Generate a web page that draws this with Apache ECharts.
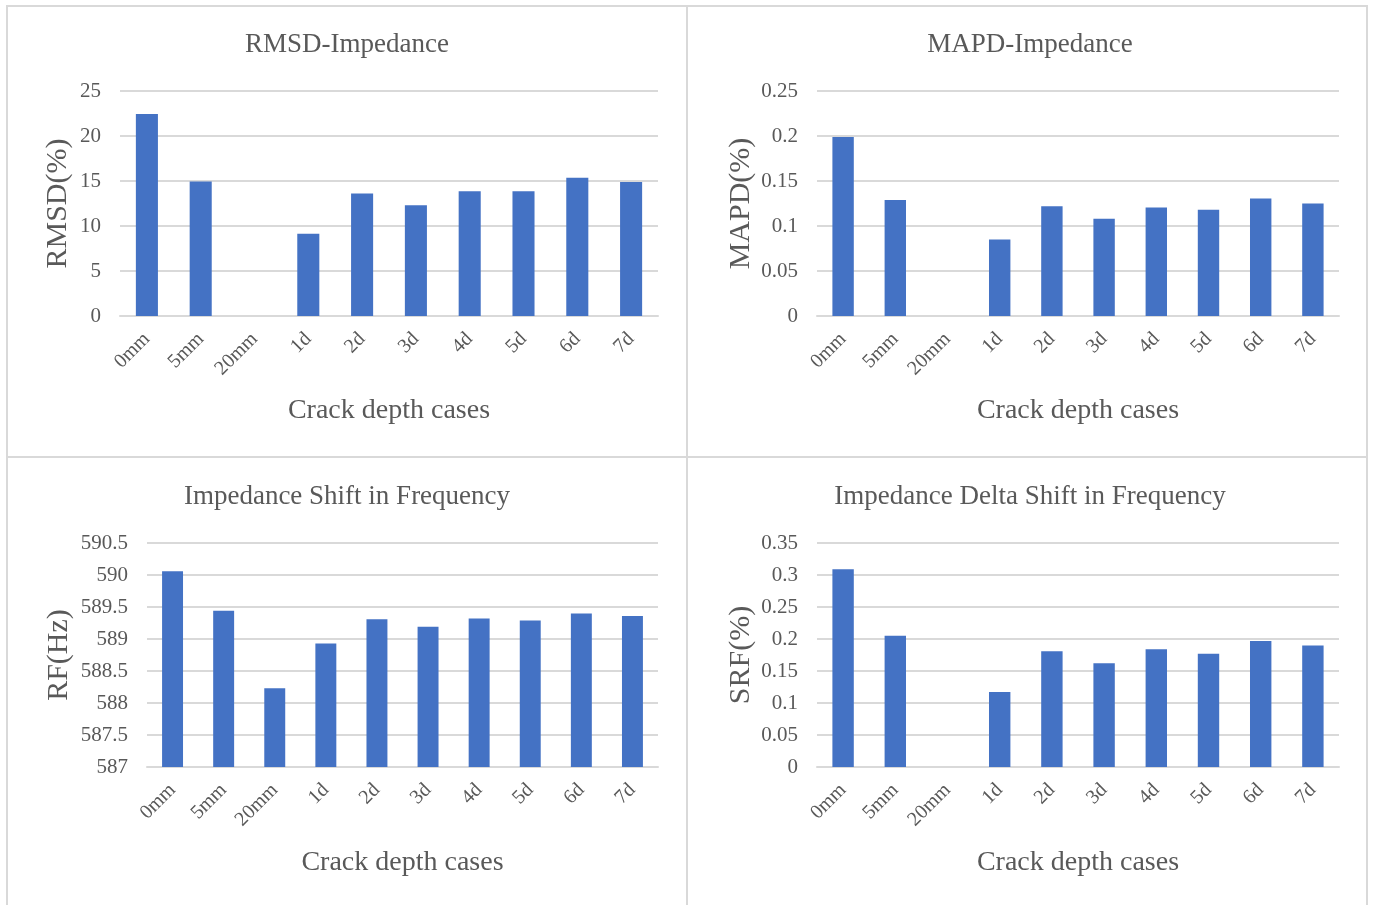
<!DOCTYPE html>
<html>
<head>
<meta charset="utf-8">
<script src="https://cdn.jsdelivr.net/npm/echarts@6/dist/echarts.min.js"></script>
<style>
html,body{margin:0;padding:0;background:#fff;}
#chart{width:1374px;height:905px;}
</style>
</head>
<body>
<div id="chart"></div>
<script>
const categories = ['0mm','5mm','20mm','1d','2d','3d','4d','5d','6d','7d'];
const rmsd = [22.45, 14.95, 0, 9.15, 13.6, 12.3, 13.85, 13.85, 15.35, 14.9];
const mapd = [0.199, 0.129, 0, 0.085, 0.122, 0.108, 0.1205, 0.118, 0.1305, 0.125];
const rf   = [590.06, 589.44, 588.23, 588.93, 589.31, 589.19, 589.32, 589.29, 589.40, 589.36];
const srf  = [0.309, 0.205, 0, 0.117, 0.181, 0.162, 0.184, 0.177, 0.197, 0.190];

const titles = ['RMSD-Impedance','MAPD-Impedance','Impedance Shift in Frequency','Impedance Delta Shift in Frequency'];
const yNames = ['RMSD(%)','MAPD(%)','RF(Hz)','SRF(%)'];
const xName = 'Crack depth cases';

const FONT = '"Liberation Serif","Times New Roman",serif';
const TXT = '#595959';
const GRID = '#d9d9d9';
const BAR = '#4472C4';

const chart = echarts.init(document.getElementById('chart'));

const grids = [
  {left:120, top:91, width:538, height:225},
  {left:817, top:91, width:522, height:225},
  {left:147, top:543, width:511, height:224},
  {left:817, top:543, width:522, height:224}
];
const yCfg = [
  {min:0, max:25, interval:5},
  {min:0, max:0.25, interval:0.05},
  {min:587, max:590.5, interval:0.5},
  {min:0, max:0.35, interval:0.05}
];
const yGaps = [47, 61, 73, 61];
const xGaps = [81, 81, 82, 82];
const titlePos = [{x:347,y:31},{x:1030,y:31},{x:347,y:483},{x:1030,y:483}];
const dataSets = [rmsd, mapd, rf, srf];

const option = {
  animation:false,
  backgroundColor:'#fff',
  title: titles.map((t,i)=>({
    text:t, left:titlePos[i].x, top:titlePos[i].y, textAlign:'center', padding:0,
    textStyle:{fontFamily:FONT, fontSize:27, fontWeight:'normal', color:TXT}
  })),
  grid: grids,
  xAxis: grids.map((g,i)=>({
    type:'category', gridIndex:i, data:categories,
    name:xName, nameLocation:'middle', nameGap:xGaps[i],
    nameTextStyle:{fontFamily:FONT, fontSize:28, color:TXT},
    axisLine:{show:true, lineStyle:{color:GRID, width:2}},
    axisTick:{show:false},
    axisLabel:{rotate:45, interval:0, margin:20, fontFamily:FONT, fontSize:20, color:TXT}
  })),
  yAxis: grids.map((g,i)=>({
    type:'value', gridIndex:i, min:yCfg[i].min, max:yCfg[i].max, interval:yCfg[i].interval,
    name:yNames[i], nameLocation:'middle', nameGap:yGaps[i], nameRotate:90,
    nameTextStyle:{fontFamily:FONT, fontSize:30, color:TXT},
    axisLine:{show:false}, axisTick:{show:false},
    splitLine:{show:true, lineStyle:{color:GRID, width:2}},
    axisLabel:{margin:19, fontFamily:FONT, fontSize:21, color:TXT}
  })),
  series: dataSets.map((d,i)=>({
    type:'bar', xAxisIndex:i, yAxisIndex:i, data:d, barWidth:'41%',
    itemStyle:{color:BAR}
  })),
  graphic: [
    {type:'line', shape:{x1:7,y1:5,x2:7,y2:905}, style:{stroke:GRID, lineWidth:2}},
    {type:'line', shape:{x1:6,y1:6,x2:1368,y2:6}, style:{stroke:GRID, lineWidth:2}},
    {type:'line', shape:{x1:1367,y1:5,x2:1367,y2:905}, style:{stroke:GRID, lineWidth:2}},
    {type:'line', shape:{x1:687,y1:5,x2:687,y2:905}, style:{stroke:GRID, lineWidth:2}},
    {type:'line', shape:{x1:6,y1:457,x2:1368,y2:457}, style:{stroke:GRID, lineWidth:2}}
  ]
};
chart.setOption(option);
</script>
</body>
</html>
